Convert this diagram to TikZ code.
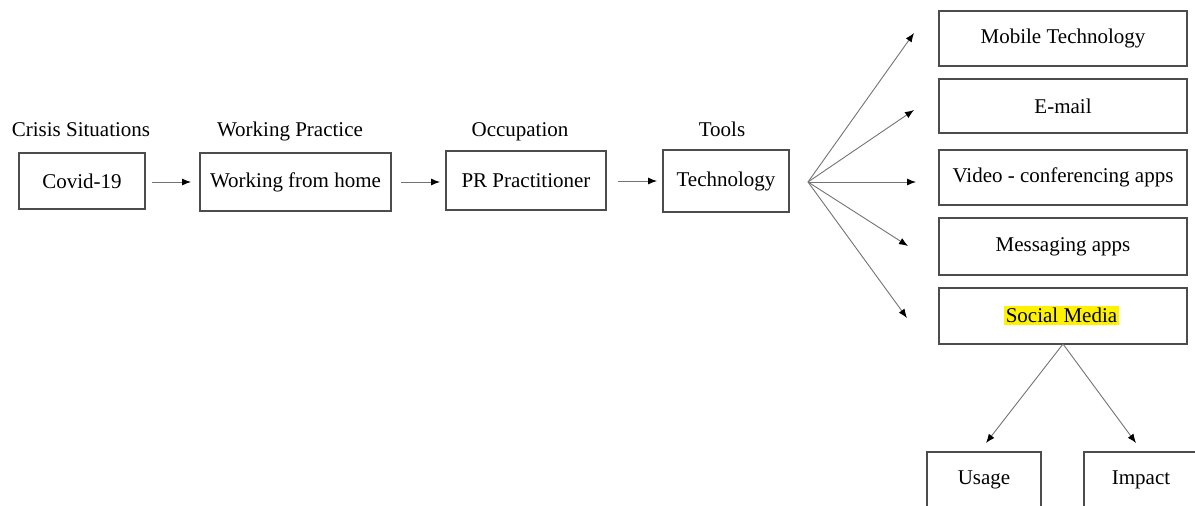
\documentclass[tikz,border=0pt]{standalone}
\usepackage{fontspec}
\setmainfont{Liberation Serif}
\usetikzlibrary{arrows.meta}
\begin{document}
\begin{tikzpicture}[x=1pt,y=-1pt,
  every node/.style={font=\fontsize{21}{24}\selectfont, inner sep=0pt},
  box/.style={draw=black!70, line width=1.1pt, fill=white, align=center},
  title/.style={anchor=base},
  link/.style={draw=black!55, line width=0.9pt, -{Latex[length=9pt,width=7pt,black]}},
  hl/.style={fill=yellow, inner sep=2pt}
]
\useasboundingbox (0,0) rectangle (1195,506);
\clip (0,0) rectangle (1195,506);

% main chain
\node[box, minimum width=126pt, minimum height=56pt] (covid) at (82,181) {Covid-19};
\node[box, minimum width=191pt, minimum height=58pt] (wfh) at (295.5,182) {Working from home};
\node[box, minimum width=160pt, minimum height=59pt] (pr) at (526,180.5) {PR Practitioner};
\node[box, minimum width=126pt, minimum height=62pt] (tech) at (726,181) {Technology};

% category titles
\node[title] (t1) at (81,136) {Crisis Situations};
\node[title] (t2) at (290,136) {Working Practice};
\node[title] (t3) at (520,136) {Occupation};
\node[title] (t4) at (722,136) {Tools};

% technology types
\node[box, minimum width=248pt, minimum height=55pt] (mob) at (1063,38.5) {Mobile Technology};
\node[box, minimum width=248pt, minimum height=54pt] (mail) at (1063,106) {E-mail};
\node[box, minimum width=248pt, minimum height=55pt] (video) at (1063,177.5) {Video - conferencing apps};
\node[box, minimum width=248pt, minimum height=57pt] (msg) at (1063,246.5) {Messaging apps};
\node[box, minimum width=248pt, minimum height=56pt] (sm) at (1063,316) {\phantom{Social Media}};
\node[hl] (smtext) at (1061.5,315.5) {Social Media};

% social media aspects
\node[box, minimum width=114pt, minimum height=56pt] (usage) at (984,480) {Usage};
\node[box, minimum width=114pt, minimum height=56pt] (impact) at (1141,480) {Impact};

% arrow end points
\coordinate (fan) at (808,182);
\coordinate (a1s) at (152,182);
\coordinate (a1e) at (191,182);
\coordinate (a2s) at (401,182);
\coordinate (a2e) at (440,182);
\coordinate (a3s) at (618,181);
\coordinate (a3e) at (657,181);
\coordinate (f1) at (914,33);
\coordinate (f2) at (914,110);
\coordinate (f3) at (916,182);
\coordinate (f4) at (908,246);
\coordinate (f5) at (907,318);
\coordinate (smb) at (1063,344);
\coordinate (u) at (986,443);
\coordinate (i) at (1136,443);

\draw[link] (a1s) -- (a1e);
\draw[link] (a2s) -- (a2e);
\draw[link] (a3s) -- (a3e);

\draw[link] (fan) -- (f1);
\draw[link] (fan) -- (f2);
\draw[link] (fan) -- (f3);
\draw[link] (fan) -- (f4);
\draw[link] (fan) -- (f5);

\draw[link] (smb) -- (u);
\draw[link] (smb) -- (i);
\end{tikzpicture}
\end{document}
